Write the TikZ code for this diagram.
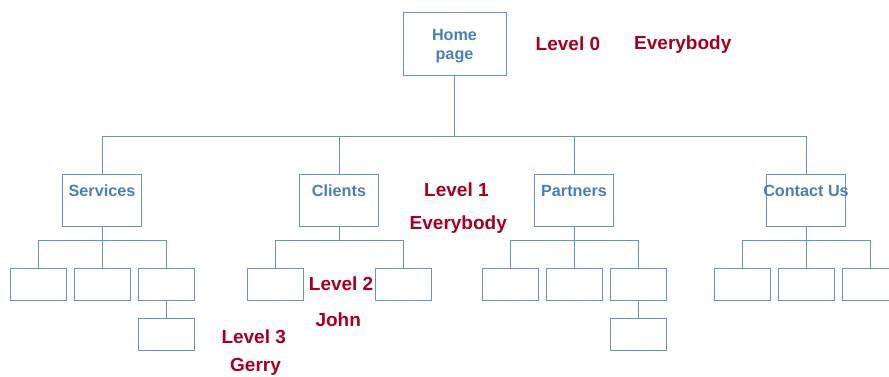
\documentclass[tikz,border=0pt]{standalone}
\usepackage{fontspec}
\setmainfont{Liberation Sans}
\usepackage{tikz}
\definecolor{ColBlue}{RGB}{74,126,187}
\definecolor{ColLine}{RGB}{98,148,206}
\definecolor{ColRed}{RGB}{165,0,33}
\tikzstyle{PageBox}=[draw=ColLine,line width=1pt,minimum width=79pt,minimum height=52pt,inner sep=0pt]
\tikzstyle{LeafBox}=[draw=ColLine,line width=1pt,minimum width=56pt,minimum height=32pt,inner sep=0pt]
\tikzstyle{PageName}=[text=ColBlue,inner sep=0pt,font=\fontsize{16.2}{19.3}\selectfont\bfseries]
\tikzstyle{PageTitle}=[PageName,yshift=9.6pt]
\tikzstyle{LinkTree}=[ColLine,line width=1pt]
\tikzstyle{LevelText}=[text=ColRed,anchor=base west,inner sep=0pt,font=\fontsize{19}{22}\selectfont\bfseries]

\begin{document}
\begin{tikzpicture}[x=1pt,y=-1pt]
        \useasboundingbox (0,0) rectangle (889,376);
        % level 0
        \node[PageBox,minimum width=103pt,minimum height=63pt,
            label={[PageName,align=center,yshift=-2.5pt]center:Home\\page}](home)at(454.5,43.8){};
        % level 1
        \node[PageBox,label={[PageTitle]center:Services}](serv)at(102,200.2){};
        \node[PageBox,label={[PageTitle]center:Clients}](clie)at(339,200.2){};
        \node[PageBox,label={[PageTitle]center:Partners}](part)at(574,200.2){};
        \node[PageBox,label={[PageTitle]center:Contact Us}](cont)at(806,200.2){};
        % level 2 and 3
        \node[LeafBox](servA)at(38,284){};
        \node[LeafBox](servB)at(102,284){};
        \node[LeafBox](servC)at(166,284){};
        \node[LeafBox](servCa)at(166,334){};
        \node[LeafBox](clieA)at(275,284){};
        \node[LeafBox](clieB)at(403,284){};
        \node[LeafBox](partA)at(510,284){};
        \node[LeafBox](partB)at(574,284){};
        \node[LeafBox](partC)at(638,284){};
        \node[LeafBox](partCa)at(638,334){};
        \node[LeafBox](contA)at(742,284){};
        \node[LeafBox](contB)at(806,284){};
        \node[LeafBox](contC)at(870,284){};
        % links
        \coordinate(bus)at(454.5,136);
        \coordinate(busS)at(102,240);
        \coordinate(busC)at(339,240);
        \coordinate(busP)at(574,240);
        \coordinate(busU)at(806,240);
        \draw[LinkTree](home)--(bus);
        \draw[LinkTree](serv)|-(bus);
        \draw[LinkTree](clie)|-(bus);
        \draw[LinkTree](part)|-(bus);
        \draw[LinkTree](cont)|-(bus);
        \draw[LinkTree](serv)--(busS);
        \draw[LinkTree](servA)|-(busS);
        \draw[LinkTree](servB)--(busS);
        \draw[LinkTree](servC)|-(busS);
        \draw[LinkTree](servC)--(servCa);
        \draw[LinkTree](clie)--(busC);
        \draw[LinkTree](clieA)|-(busC);
        \draw[LinkTree](clieB)|-(busC);
        \draw[LinkTree](part)--(busP);
        \draw[LinkTree](partA)|-(busP);
        \draw[LinkTree](partB)--(busP);
        \draw[LinkTree](partC)|-(busP);
        \draw[LinkTree](partC)--(partCa);
        \draw[LinkTree](cont)--(busU);
        \draw[LinkTree](contA)|-(busU);
        \draw[LinkTree](contB)--(busU);
        \draw[LinkTree](contC)|-(busU);
        % levels and users
        \node[LevelText](lvlA)at(535.5,50){Level 0};
        \node[LevelText](usrA)at(634,49.5){Everybody};
        \node[LevelText](lvlB)at(424,196.7){Level 1};
        \node[LevelText](usrB)at(409.5,229){Everybody};
        \node[LevelText](lvlC)at(308.7,290.7){Level 2};
        \node[LevelText](usrC)at(315.3,326){John};
        \node[LevelText](lvlD)at(221.3,343.3){Level 3};
        \node[LevelText](usrD)at(230,371.5){Gerry};
    \end{tikzpicture}
\end{document}
